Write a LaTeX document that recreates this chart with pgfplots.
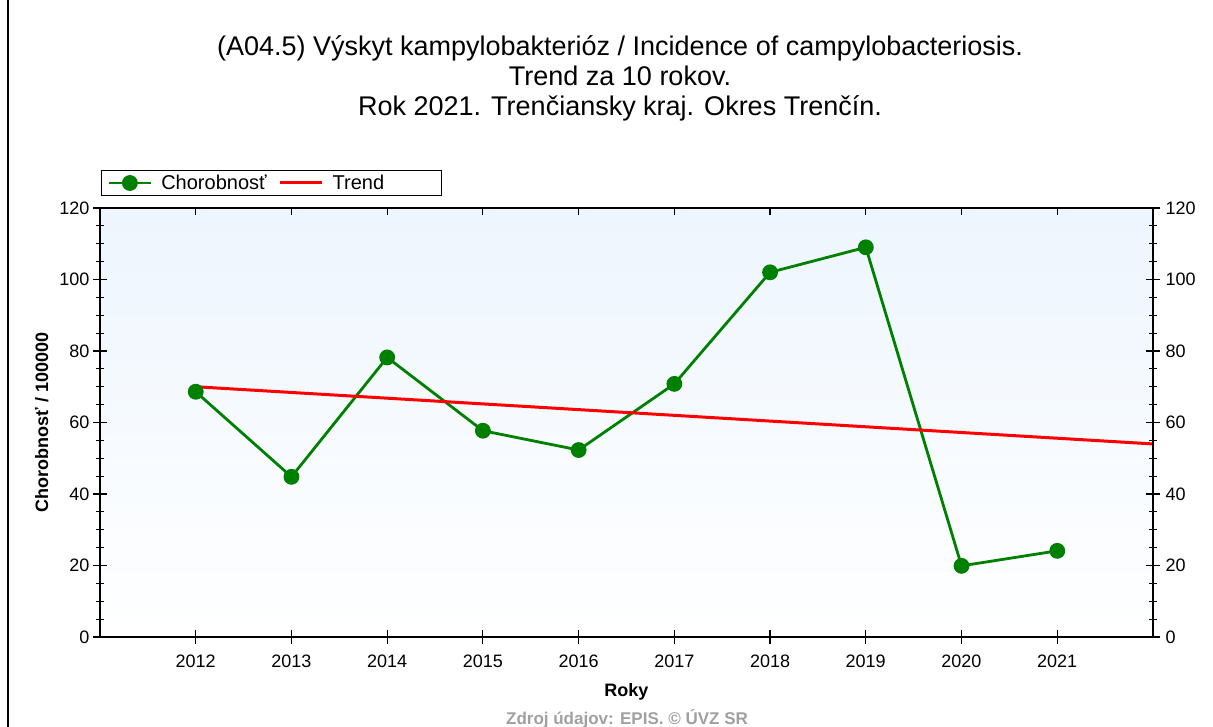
\documentclass[border=0pt]{standalone}
\usepackage{fontspec}
\setmainfont{Liberation Sans}
\usepackage{pgfplots}
\pgfplotsset{compat=1.18}

\definecolor{serA}{RGB}{0,128,0}
\definecolor{bgtop}{RGB}{237,245,254}
\definecolor{srcgray}{RGB}{160,160,160}

\pgfplotstableread{
rok hodnota
2012 68.6
2013 44.8
2014 78.2
2015 57.7
2016 52.3
2017 70.8
2018 102.0
2019 109.0
2020 19.9
2021 24.1
}\chorobnost

\pgfplotstableread{
rok hodnota
2012 70.0
2022 54.0
}\trend

\begin{document}
\begin{tikzpicture}[x=1pt,y=1pt]
\useasboundingbox (0pt,0pt) rectangle (1213pt,727pt);
\draw[line width=1.5pt] (8pt,0pt) -- (8pt,727pt);

\node[font=\fontsize{27}{30}\selectfont, align=center] at (620pt,649pt)
  {(A04.5) Výskyt kampylobakterióz / Incidence of campylobacteriosis.\\
   Trend za 10 rokov.\\
   Rok 2021. Trenčiansky kraj. Okres Trenčín.};

\pgfplotsset{
  base/.style={
    at={(100pt,90pt)}, anchor=south west,
    scale only axis, width=1053pt, height=429pt,
    xmin=2011, xmax=2022, ymin=0, ymax=120,
    axis line style={line width=1.2pt},
    tick style={line width=1.2pt, black},
    ticklabel style={font=\fontsize{18}{20}\selectfont},
    /pgf/number format/assume math mode=true,
    /pgf/number format/1000 sep={},
  },
}

\begin{axis}[base,
  axis background/.style={top color=bgtop, bottom color=white},
  xtick={2012,...,2021},
  ytick={0,20,...,120},
  minor y tick num=3,
  xtick pos=bottom, ytick pos=left,
  tick align=center,
  major tick length=14pt, minor tick length=9pt,
  xticklabel style={yshift=-7pt},
  xlabel={\textbf{Roky}},
  ylabel={\textbf{Chorobnosť / 100000}},
  xlabel style={font=\fontsize{18}{20}\selectfont, yshift=-9pt},
  ylabel style={font=\fontsize{18}{20}\selectfont, yshift=4pt},
  legend columns=2,
  legend style={at={(axis description cs:0,1)}, anchor=south west,
    xshift=1pt, yshift=12pt, draw=black, line width=1pt,
    font=\fontsize{20}{23}\selectfont, inner xsep=6pt, inner ysep=2.5pt,
    /tikz/every odd column/.append style={column sep=7pt},
    /tikz/every even column/.append style={column sep=10pt}},
  legend cell align=left,
  legend image code/.code={\draw[mark repeat=2,mark phase=2,#1]
    plot coordinates {(0pt,0pt)(21pt,0pt)(42pt,0pt)};},
]
\addplot[serA, line width=2.8pt, mark=*, mark size=6.5pt,
  mark options={solid, fill=serA, draw=serA}] table[x=rok,y=hodnota]{\chorobnost};
\addlegendentry{Chorobnosť}
\addplot[red, line width=3pt] table[x=rok,y=hodnota]{\trend};
\addlegendentry{\makebox[101pt][l]{Trend}}
\end{axis}

\begin{axis}[base,
  axis x line=none, axis y line*=right,
  ytick={0,20,...,120}, minor y tick num=3,
  tick align=center,
  major tick length=14pt, minor tick length=9pt,
  yticklabel style={xshift=2pt},
]
\end{axis}

\begin{axis}[base,
  axis y line=none, axis x line*=top,
  xtick={2012,...,2021}, xticklabels={},
  tick align=inside, major tick length=7pt,
]
\end{axis}

\node[font=\bfseries\fontsize{17}{20}\selectfont, text=srcgray] at (627pt,8pt)
  {Zdroj údajov: EPIS. © ÚVZ SR};
\end{tikzpicture}
\end{document}
